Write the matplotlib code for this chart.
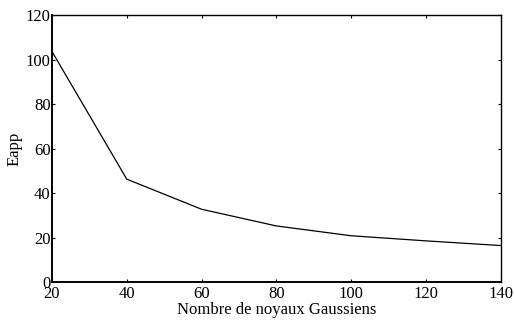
import matplotlib
matplotlib.use("Agg")
import matplotlib.pyplot as plt

# Number of Gaussian kernels vs. learning error
n_kernels = [20, 40, 60, 80, 100, 120, 140]
eapp = [103.6, 46.3, 32.8, 25.3, 20.9, 18.6, 16.5]

x_ticks = [20, 40, 60, 80, 100, 120, 140]
y_ticks = [0, 20, 40, 60, 80, 100, 120]

plt.rcParams['font.family'] = ['Liberation Serif', 'DejaVu Serif']
plt.rcParams['font.size'] = 12

fig = plt.figure(figsize=(5.14, 3.2), dpi=100)
ax = fig.add_axes([52 / 514, 1 - 282.3 / 320, (500.7 - 52) / 514, (282.3 - 15) / 320])

ax.plot(n_kernels, eapp, color='black', linewidth=0.9)

ax.set_xlim(20, 140)
ax.set_ylim(0, 120)
ax.set_xticks(x_ticks)
ax.set_yticks(y_ticks)
ax.tick_params(direction='in', length=2.5, width=0.8, top=True, right=True)
ax.tick_params(axis='x', pad=3)
ax.tick_params(axis='y', pad=1)

for side in ['left', 'bottom']:
    ax.spines[side].set_linewidth(1.4)
for side in ['top', 'right']:
    ax.spines[side].set_linewidth(1.0)

ax.set_xlabel('Nombre de noyaux Gaussiens', labelpad=0)
ax.set_ylabel('Eapp', labelpad=2)

fig.savefig('out.png', dpi=100)
